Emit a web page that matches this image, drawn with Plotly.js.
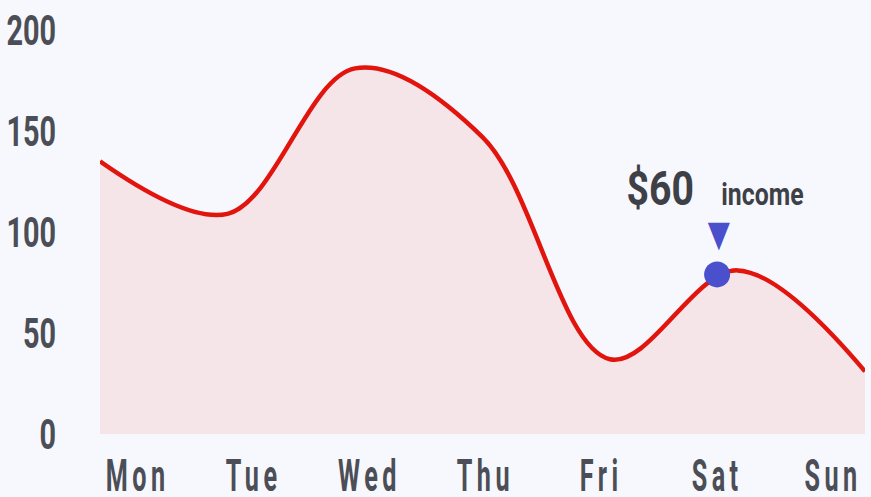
<!DOCTYPE html>
<html><head><meta charset="utf-8">
<script src="https://cdn.plot.ly/plotly-3.0.1.min.js"></script>
<style>
html,body{margin:0;padding:0;background:#f7f8fd;}
#chart{width:871px;height:497px;}
.x2tick text{letter-spacing:8px;}
</style></head><body>
<div id="chart"></div>
<script>
var days = ['Mon','Tue','Wed','Thu','Fri','Sat','Sun'];
var income = [135, 109, 181, 147, 37, 81, 31];
var yTicks = [0, 50, 100, 150, 200];
var highlightDay = 'Sat';
var highlightValue = 79;
var highlightLabel = '$60';
var highlightCaption = 'income';

var FONT = 'Roboto, "DejaVu Sans", sans-serif';
var BLUE = '#4a4fcc';
var hiIdx = days.indexOf(highlightDay);

var traces = [
  {x: days.map(function(d,i){return i;}), y: income, type:'scatter', mode:'lines',
   line:{shape:'spline', smoothing:1, color:'#e2140e', width:4.5},
   fill:'tozeroy', fillcolor:'#f5e5e9', xaxis:'x', yaxis:'y', hoverinfo:'skip'},
  {x:[hiIdx], y:[highlightValue], type:'scatter', mode:'markers',
   marker:{color:BLUE, size:26}, xaxis:'x2', yaxis:'y', hoverinfo:'skip'}
];

var layout = {
  width:871, height:497,
  paper_bgcolor:'#f7f8fd', plot_bgcolor:'#f7f8fd',
  margin:{l:100, r:6, t:30, b:63},
  showlegend:false,
  font:{family:FONT, color:'#4b4e56', weight:700},
  xaxis:{range:[0, income.length-1], showgrid:false, zeroline:false, showline:false,
         showticklabels:false, ticks:''},
  xaxis2:{overlaying:'x', range:[-0.325, 6.276], tickvals:days.map(function(d,i){return i;}),
          ticktext:days, showgrid:false, zeroline:false, showline:false, ticks:'',
          side:'bottom', anchor:'y', tickfont:{size:45, color:'#4b4e56', weight:700},
          ticklabelstandoff:11, ticklabeloverflow:'allow'},
  yaxis:{range:[0,200], tickvals:yTicks, showgrid:false, zeroline:false, showline:false,
         ticks:'', tickfont:{size:43, color:'#4b4e56', weight:700}, ticklabelstandoff:43},
  annotations:[
    {xref:'x2', yref:'y', x:hiIdx, y:highlightValue, text:'▼', showarrow:false,
     font:{size:36, color:BLUE, family:'DejaVu Sans'}, xshift:2, yshift:41},
    {xref:'x2', yref:'y', x:hiIdx, y:highlightValue, text:highlightLabel, showarrow:false,
     font:{size:49, color:'#3e4047', weight:700}, xanchor:'center', yanchor:'middle', xshift:-57, yshift:86},
    {xref:'x2', yref:'y', x:hiIdx, y:highlightValue, text:highlightCaption, showarrow:false,
     font:{size:31, color:'#3e4047', weight:700}, xanchor:'center', yanchor:'middle', xshift:45, yshift:80}
  ]
};

function condense(sel, f){
  document.querySelectorAll(sel).forEach(function(el){
    var len = el.getComputedTextLength();
    if (len > 0){
      el.setAttribute('textLength', (len*f).toFixed(2));
      el.setAttribute('lengthAdjust','spacingAndGlyphs');
    }
  });
}
Plotly.newPlot('chart', traces, layout, {displayModeBar:false, staticPlot:true}).then(function(){
  condense('.x2tick text', 0.56);
  condense('.ytick text', 0.67);
  condense('.annotation-text', 0.8);
});
</script></body></html>
